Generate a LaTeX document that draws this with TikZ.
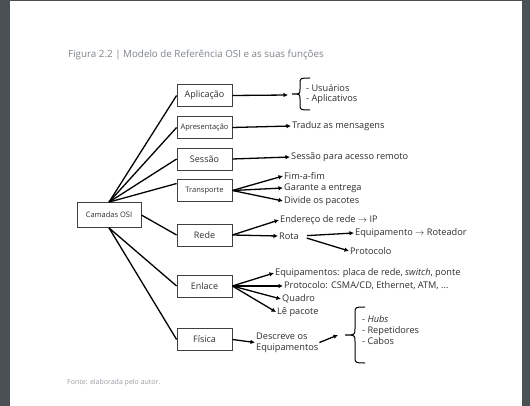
\documentclass[tikz,border=0pt]{standalone}
\usepackage{fontspec}
\setmainfont{Open Sans}
\usepackage{tikz}
\usetikzlibrary{arrows.meta}
\definecolor{pagegray}{HTML}{4B5055}
\definecolor{capgray}{HTML}{7E858C}
\definecolor{inkgray}{HTML}{2E2E33}
\tikzset{
  layer box/.style  = {draw=black!75, line width=0.8pt, minimum width=55pt,
                       minimum height=22pt, inner sep=1pt, text=inkgray,
                       font=\fontsize{9}{11}\selectfont},
  small box/.style  = {layer box, font=\fontsize{7.5}{9}\selectfont},
  info/.style       = {anchor=west, inner sep=1pt, align=left, text=inkgray,
                       font=\fontsize{9.2}{11}\selectfont},
  link/.style       = {line width=1.3pt},
  arr/.style        = {-{Latex[length=4.5pt,width=4.5pt]}, line width=1.3pt},
}

\begin{document}
\begin{tikzpicture}[x=1pt,y=-1pt]
  % page
  \fill[pagegray] (0,0) rectangle (530,406);
  \fill[white] (10,1) rectangle (522,406);
  \useasboundingbox (0,0) rectangle (530,406);

  \node[anchor=west, inner sep=0pt, text=capgray, font=\fontsize{9.8}{11}\selectfont]
    (cap) at (68,55) {Figura 2.2 | Modelo de Referência OSI e as suas funções};

  % layers
  \node[small box, minimum width=64pt, minimum height=25pt] (osi) at (109,215) {Camadas OSI};
  \node[layer box] (app)  at (204.5,95.5)  {Aplicação};
  \node[small box] (apr)  at (204.5,127.5) {Apresentação};
  \node[layer box] (ses)  at (204.5,159)   {Sessão};
  \node[small box] (tra)  at (204.5,190.5) {Transporte};
  \node[layer box] (rede) at (204.5,235)   {Rede};
  \node[layer box] (enl)  at (204.5,286)   {Enlace};
  \node[layer box] (fis)  at (204.5,339.5) {Física};

  \draw[link] (osi.north) -- (app.west);
  \draw[link] (osi.north) -- (apr.west);
  \draw[link] (osi.north) -- (ses.west);
  \draw[link] (osi.north) -- ([yshift=7pt]tra.west);
  \draw[link] (osi.east)  -- (rede.west);
  \draw[link] (osi.south) -- (enl.west);
  \draw[link] (osi.south) -- (fis.west);

  % functions
  \coordinate (appb) at (288,95);
  \node[info, font=\fontsize{9.2}{10}\selectfont] (usu) at (305,94) {- Usuários\\- Aplicativos};
  \draw[arr] (app.east) -- (appb);
  \draw[line width=1pt] (310,78) .. controls (300,78) .. (300,84) -- (300,89)
    .. controls (300,94) .. (292,94) .. controls (300,94) .. (300,99)
    -- (300,104) .. controls (300,110) .. (310,110);

  \node[info] (trad) at (291,126) {Traduz as mensagens};
  \draw[arr] (apr.east) -- (trad.west);

  \node[info] (sesr) at (290,157) {Sessão para acesso remoto};
  \draw[arr] (ses.east) -- (sesr.west);

  \node[info] (fim) at (283,176) {Fim-a-fim};
  \node[info] (gar) at (283,188) {Garante a entrega};
  \node[info] (div) at (283,201) {Divide os pacotes};
  \foreach \t in {fim,gar,div}
    \draw[arr] (tra.east) -- (\t.west);

  \node[info] (ende)  at (279,220) {Endereço de rede $\rightarrow$ IP};
  \node[info] (rota)  at (278,236) {Rota};
  \node[info] (equip) at (354,233) {Equipamento $\rightarrow$ Roteador};
  \node[info] (proto) at (349,251) {Protocolo};
  \draw[arr] (rede.east) -- (ende.west);
  \draw[arr] (rede.east) -- (rota.west);
  \draw[arr, shorten <=7pt] (rota.east) -- (equip.west);
  \draw[arr, shorten <=7pt] (rota.east) -- (proto.west);

  \node[info] (eqs)  at (274,273) {Equipamentos: placa de rede, \textit{switch}, ponte};
  \node[info] (prot) at (283,286) {Protocolo: CSMA/CD, Ethernet, ATM, ...};
  \node[info] (quad) at (281,299) {Quadro};
  \node[info] (le)   at (276,312) {Lê pacote};
  \foreach \t in {eqs,prot,quad,le}
    \draw[arr] (enl.east) -- (\t.west);

  \node[info] (desc) at (255,342.5) {Descreve os\\Equipamentos};
  \coordinate (fisb) at (338,335);
  \node[info] (hubs) at (361,330) {- \textit{Hubs}\\- Repetidores\\- Cabos};
  \draw[arr] (fis.east) -- (desc.west);
  \draw[arr] (desc.east) -- (fisb);
  \draw[line width=1pt] (365,307) .. controls (355,307) .. (355,314) -- (355,328)
    .. controls (355,335) .. (345,335) .. controls (355,335) .. (355,342)
    -- (355,356) .. controls (355,363) .. (365,363);

  \node[anchor=west, inner sep=0pt, text=capgray!80, font=\fontsize{7}{8}\selectfont]
    (src) at (67,383) {Fonte: elaborada pelo autor.};
\end{tikzpicture}
\end{document}
